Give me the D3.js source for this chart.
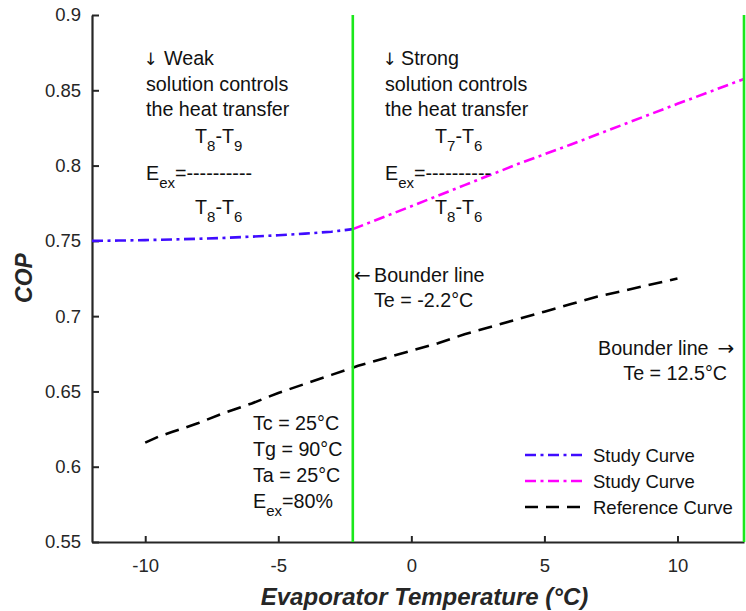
<!DOCTYPE html>
<html>
<head>
<meta charset="utf-8">
<script src="https://cdn.jsdelivr.net/npm/d3@7"></script>
<style>
  html, body { margin: 0; padding: 0; background: #fff; }
  svg { display: block; font-family: "Liberation Sans", Arial, Helvetica, sans-serif; }
</style>
</head>
<body>
<svg id="chart" width="746" height="611"></svg>
<script>
// Study curve, weak-solution-controlled region (Te below the -2.2 °C boundary)
const weakTemp = [-12, -11, -10, -9, -8, -7, -6, -5, -4, -3, -2.2];
const weakCop  = [0.7500, 0.7502, 0.7505, 0.7509, 0.7514, 0.7520, 0.7528, 0.7537, 0.7548, 0.7561, 0.7578];

// Study curve, strong-solution-controlled region (-2.2 °C to 12.5 °C)
const strongTemp = [-2.2, 0, 2, 4, 6, 8, 10, 12.5];
const strongCop  = [0.7578, 0.7730, 0.7870, 0.8010, 0.8140, 0.8275, 0.8410, 0.8575];

// Reference curve
const refTemp = [-10, -9.5, -9, -8, -7, -6, -5, -4, -3, -2, -1, 0, 1, 2, 3, 4, 5, 6, 7, 8, 9, 10];
const refCop  = [0.616, 0.620, 0.623, 0.629, 0.636, 0.642, 0.649, 0.655, 0.661, 0.667, 0.672,
                 0.677, 0.682, 0.688, 0.693, 0.698, 0.703, 0.708, 0.713, 0.717, 0.721, 0.725];

// Boundary temperatures
const boundaries = [-2.2, 12.5];

// Axis ticks
const xTicks = [-10, -5, 0, 5, 10];
const yTicks = [0.55, 0.6, 0.65, 0.7, 0.75, 0.8, 0.85, 0.9];
const yTickLabels = ["0.55", "0.6", "0.65", "0.7", "0.75", "0.8", "0.85", "0.9"];

// Legend entries
const legendLabels = ["Study Curve", "Study Curve", "Reference Curve"];

(function () {
const svg = d3.select("#chart");
const plotLeft = 92, plotRight = 744, plotTop = 15, plotBottom = 542;
const FS = 18.5;      // tick and legend text
const AFS = 19.7;     // annotation text
const SUB = 15;       // subscripts
const axisColor = "#262626";
const arrowFont = "'DejaVu Sans', sans-serif";

const x = d3.scaleLinear().domain([-12, 12.5]).range([plotLeft, plotRight]);
const y = d3.scaleLinear().domain([0.55, 0.9]).range([plotBottom, plotTop]);

const styles = {
  weak:   { color: "#3f0cff", dash: "11,4.5,3,4.5", width: 2.6 },
  strong: { color: "#ff00ff", dash: "11,4.5,3,4.5", width: 2.6 },
  ref:    { color: "#000000", dash: "14,8", width: 2.6 }
};

// Axes
const yAxis = d3.axisLeft(y).tickValues(yTicks)
  .tickFormat((d, i) => yTickLabels[i])
  .tickSizeInner(-7).tickSizeOuter(0).tickPadding(11);
const xAxis = d3.axisBottom(x).tickValues(xTicks)
  .tickFormat(d => String(d))
  .tickSizeInner(-6).tickSizeOuter(0).tickPadding(17);

const gy = svg.append("g").attr("transform", `translate(${plotLeft},0)`).call(yAxis);
const gx = svg.append("g").attr("transform", `translate(0,${plotBottom})`).call(xAxis);
[gx, gy].forEach(g => {
  g.select(".domain").attr("stroke", axisColor).attr("stroke-width", 2.2);
  g.selectAll(".tick line").attr("stroke", axisColor).attr("stroke-width", 2);
  g.selectAll(".tick text").attr("fill", axisColor).attr("font-size", FS)
    .attr("font-family", "'Liberation Sans', Arial, sans-serif");
});

// Curves
const line = d3.line().x(d => x(d[0])).y(d => y(d[1]));
function drawCurve(temps, cops, st) {
  svg.append("path")
    .datum(temps.map((t, i) => [t, cops[i]]))
    .attr("d", line)
    .attr("fill", "none")
    .attr("stroke", st.color)
    .attr("stroke-width", st.width)
    .attr("stroke-dasharray", st.dash);
}
drawCurve(refTemp, refCop, styles.ref);
drawCurve(weakTemp, weakCop, styles.weak);
drawCurve(strongTemp, strongCop, styles.strong);

// Boundary lines
svg.selectAll(".boundary").data(boundaries).enter().append("line")
  .attr("class", "boundary")
  .attr("x1", d => x(d)).attr("x2", d => x(d))
  .attr("y1", plotTop).attr("y2", plotBottom)
  .attr("stroke", "#1be81b").attr("stroke-width", 2.6);

// Text with subscripts: parts are [string, isSubscript]
function richText(xp, yp, parts, anchor) {
  const t = svg.append("text").attr("x", xp).attr("y", yp)
    .attr("font-size", AFS).attr("fill", "#111")
    .attr("text-anchor", anchor || "start");
  let shifted = false;
  parts.forEach(([s, sub]) => {
    const ts = t.append("tspan").text(s);
    if (sub && !shifted) { ts.attr("dy", 8).attr("font-size", SUB); shifted = true; }
    else if (sub) { ts.attr("font-size", SUB); }
    else if (!sub && shifted) { ts.attr("dy", -8); shifted = false; }
  });
  return t;
}
function arrow(xc, yb, ch, size) {
  svg.append("text").attr("x", xc).attr("y", yb)
    .attr("text-anchor", "middle")
    .attr("font-family", arrowFont).attr("font-size", size)
    .attr("fill", "#111").text(ch);
}

// Weak solution annotation
arrow(150.5, 65, "↓", 17);
richText(164, 65, [["Weak"]]);
richText(146, 90.5, [["solution controls"]]);
richText(146, 116, [["the heat transfer"]]);
richText(195, 143, [["T"], ["8", true], ["-T"], ["9", true]]);
richText(146, 180, [["E"], ["ex", true], ["=----------"]]);
richText(195, 214, [["T"], ["8", true], ["-T"], ["6", true]]);

// Strong solution annotation
arrow(389.5, 65, "↓", 17);
richText(401, 65, [["Strong"]]);
richText(385, 90.5, [["solution controls"]]);
richText(385, 116, [["the heat transfer"]]);
richText(435, 143, [["T"], ["7", true], ["-T"], ["6", true]]);
richText(385, 180, [["E"], ["ex", true], ["=----------"]]);
richText(435, 214, [["T"], ["8", true], ["-T"], ["6", true]]);

// Boundary labels
arrow(362.5, 282, "←", 20);
richText(374, 282, [["Bounder line"]]);
richText(374, 306.5, [["Te = -2.2°C"]]);

richText(598, 355, [["Bounder line"]]);
arrow(726, 355, "→", 20);
richText(727, 380, [["Te = 12.5°C"]], "end");

// Operating conditions
richText(253, 430, [["Tc = 25°C"]]);
richText(253, 456, [["Tg = 90°C"]]);
richText(253, 481.5, [["Ta = 25°C"]]);
richText(253, 508, [["E"], ["ex", true], ["=80%"]]);

// Legend
const legendStyles = [styles.weak, styles.strong, styles.ref];
const legendY = [455, 481, 507];
legendLabels.forEach((lab, i) => {
  const st = legendStyles[i];
  svg.append("line")
    .attr("x1", 525).attr("x2", 586)
    .attr("y1", legendY[i]).attr("y2", legendY[i])
    .attr("stroke", st.color).attr("stroke-width", st.width)
    .attr("stroke-dasharray", i === 2 ? "13,8" : st.dash);
  svg.append("text").attr("x", 593).attr("y", legendY[i] + 6.5)
    .attr("font-size", FS).attr("fill", "#111").text(lab);
});

// Axis titles
svg.append("text")
  .attr("transform", "translate(32,278) rotate(-90)")
  .attr("text-anchor", "middle")
  .attr("font-size", 23).attr("font-weight", "bold").attr("font-style", "italic")
  .attr("fill", axisColor).text("COP");
svg.append("text")
  .attr("x", 424.5).attr("y", 605)
  .attr("text-anchor", "middle")
  .attr("font-size", 24).attr("font-weight", "bold").attr("font-style", "italic")
  .attr("fill", axisColor).text("Evaporator Temperature (°C)");
})();
</script>
</body>
</html>
